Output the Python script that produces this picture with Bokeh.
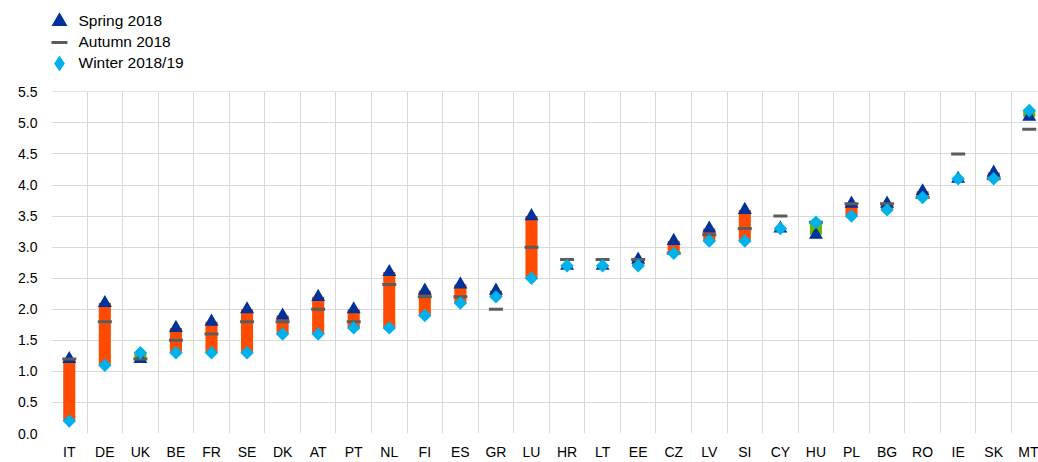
import math
from bokeh.plotting import figure
from bokeh.models import (Range1d, FixedTicker, Legend, LegendItem, BoxAnnotation,
                          ColumnDataSource, PrintfTickFormatter)
from bokeh.embed import file_html
from bokeh.resources import INLINE

countries = ["IT", "DE", "UK", "BE", "FR", "SE", "DK", "AT", "PT", "NL", "FI", "ES",
             "GR", "LU", "HR", "LT", "EE", "CZ", "LV", "SI", "CY", "HU", "PL", "BG",
             "RO", "IE", "SK", "MT"]
spring_2018 = [1.2, 2.1, 1.2, 1.7, 1.8, 2.0, 1.9, 2.2, 2.0, 2.6, 2.3, 2.4, 2.3, 3.5,
               2.7, 2.7, 2.8, 3.1, 3.3, 3.6, 3.3, 3.2, 3.7, 3.7, 3.9, 4.1, 4.2, 5.1]
autumn_2018 = [1.2, 1.8, 1.2, 1.5, 1.6, 1.8, 1.8, 2.0, 1.8, 2.4, 2.2, 2.2, 2.0, 3.0,
               2.8, 2.8, 2.8, 2.9, 3.2, 3.3, 3.5, 3.4, 3.7, 3.7, 3.8, 4.5, 4.1, 4.9]
winter_2018_19 = [0.2, 1.1, 1.3, 1.3, 1.3, 1.3, 1.6, 1.6, 1.7, 1.7, 1.9, 2.1, 2.2, 2.5,
                  2.7, 2.7, 2.7, 2.9, 3.1, 3.1, 3.3, 3.4, 3.5, 3.6, 3.8, 4.1, 4.1, 5.2]
y_ticks = [0.0, 0.5, 1.0, 1.5, 2.0, 2.5, 3.0, 3.5, 4.0, 4.5, 5.0, 5.5]
legend_labels = ["Spring 2018", "Autumn 2018", "Winter 2018/19"]

BLUE = "#003299"
GREY = "#5C5C5C"
CYAN = "#00B1EA"
DOWN = "#FF4B00"
UP = "#65B800"
idx = list(range(len(countries)))
colors = [UP if w > s else DOWN for s, w in zip(spring_2018, winter_2018_19)]

src = ColumnDataSource(dict(x=idx, spring=spring_2018, autumn=autumn_2018,
                            winter=winter_2018_19, color=colors))

# the frame reaches the top of the canvas so the legend (drawn inside it) stays visible;
# the area above the 5.5 line is blanked out below
p = figure(width=1038, height=462, title=None,
           x_range=Range1d(-0.5, 27.26), y_range=Range1d(0, 6.971),
           output_backend="svg", toolbar_location=None,
           min_border_left=51, min_border_right=0, min_border_top=0,
           min_border_bottom=26)
p.outline_line_color = None
p.background_fill_color = "white"
p.border_fill_color = "white"

# axes
for ax in (p.xaxis[0], p.yaxis[0]):
    ax.axis_line_color = None
    ax.major_tick_line_color = None
    ax.minor_tick_line_color = None
    ax.major_tick_out = 0
    ax.major_tick_in = 0
    ax.major_label_text_font = "Liberation Sans"
    ax.major_label_text_font_size = "14px"
    ax.major_label_text_color = "#000000"

p.xaxis.ticker = FixedTicker(ticks=idx)
p.xaxis.major_label_overrides = {i: c for i, c in zip(idx, countries)}
p.xaxis.major_label_standoff = 10
p.yaxis.ticker = FixedTicker(ticks=y_ticks)
p.yaxis.formatter = PrintfTickFormatter(format="%.1f")
p.yaxis.major_label_standoff = 14

p.ygrid.ticker = FixedTicker(ticks=y_ticks)
p.xgrid.ticker = FixedTicker(ticks=[i - 0.5 for i in range(len(countries) + 1)])
for g in (p.xgrid[0], p.ygrid[0]):
    g.grid_line_color = "#D9D9D9"
    g.grid_line_width = 1

p.vbar(x="x", top="spring", bottom="winter", width=0.34, fill_color="color",
       line_color=None, source=src)
tri = p.scatter("x", "spring", marker="triangle", size=14, fill_color=BLUE,
                line_color=None, source=src)
dash = p.scatter("x", "autumn", marker="dash", size=14, line_color=GREY,
                 line_width=3, source=src)
# legend swatch for the winter series (legends draw markers unrotated); in the plot it is
# tiny and fully hidden under the rotated-square markers drawn next
leg_dia = p.scatter("x", "winter", marker="diamond", size=5, fill_color=CYAN,
                    line_color=None, source=src)
dia = p.scatter("x", "winter", marker="square", angle=math.pi / 4, size=9.5,
                fill_color=CYAN, line_color=None, source=src)

# blank the region above the top gridline
p.add_layout(BoxAnnotation(bottom=y_ticks[-1] + 0.01, fill_color="white",
                           fill_alpha=1.0, line_color=None))

# one single-item legend per row, so that large swatches sit on a tight row pitch
for k, (label, rend) in enumerate(zip(legend_labels, [tri, dash, leg_dia])):
    lg = Legend(items=[LegendItem(label=label, renderers=[rend])],
                location=(-12.5, 392 - 21 * k), orientation="vertical",
                glyph_width=40, glyph_height=40, label_height=40, spacing=0,
                padding=0, margin=0, label_standoff=0,
                border_line_color=None, background_fill_alpha=0,
                label_text_font="Liberation Sans", label_text_font_size="15.5px",
                label_text_color="#000000")
    p.add_layout(lg)

open("out.html", "w").write(file_html(p, INLINE))
